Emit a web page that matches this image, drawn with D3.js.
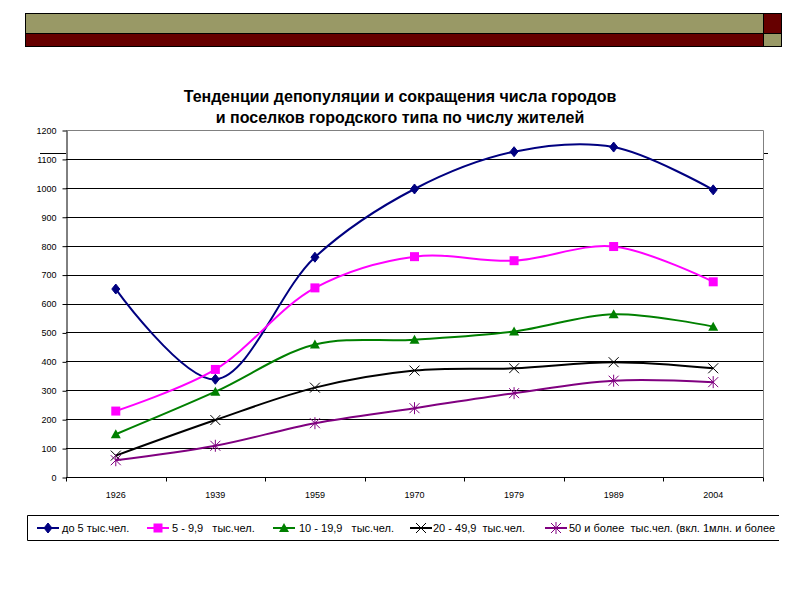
<!DOCTYPE html>
<html><head><meta charset="utf-8">
<script src="https://cdn.jsdelivr.net/npm/d3@7"></script>
<style>body{margin:0;background:#fff}svg{display:block}text{font-family:"Liberation Sans",Arial,sans-serif}</style>
</head><body>
<svg id="c" width="800" height="600"></svg>
<script>
const categories = ["1926","1939","1959","1970","1979","1989","2004"];
const yTicks = [0,100,200,300,400,500,600,700,800,900,1000,1100,1200];
const seriesNames = ["до 5 тыс.чел.","5 - 9,9   тыс.чел.","10 - 19,9   тыс.чел.","20 - 49,9  тыс.чел.","50 и более  тыс.чел. (вкл. 1млн. и более"];
const s1 = [650,338,760,996,1125,1141,993];
const s2 = [228,372,654,762,748,797,675];
const s3 = [148,295,458,475,503,563,520];
const s4 = [74,197,309,368,376,397,376];
const s5 = [58,108,186,238,290,333,328];
const titleLines = ["Тенденции депопуляции и сокращения числа городов","и поселков городского типа по числу жителей"];

const colors = ["#000080","#ff00ff","#008000","#000000","#800080"];
const markers = ["diamond","square","triangle","x","star"];
const seriesVals = [s1,s2,s3,s4,s5];

const svg = d3.select("#c");
// header bars
const hdr = svg.append("g").attr("stroke","#000").attr("stroke-width",1);
hdr.append("rect").attr("x",25.5).attr("y",13.5).attr("width",738).attr("height",20).attr("fill","#999966");
hdr.append("rect").attr("x",25.5).attr("y",33.5).attr("width",738).attr("height",13).attr("fill","#660000");
hdr.append("rect").attr("x",763.5).attr("y",13.5).attr("width",18).attr("height",20).attr("fill","#660000");
hdr.append("rect").attr("x",763.5).attr("y",33.5).attr("width",18).attr("height",13).attr("fill","#999966");

// artifact lines
svg.append("line").attr("x1",40).attr("x2",66).attr("y1",153.5).attr("y2",153.5).attr("stroke","#000");
svg.append("line").attr("x1",763).attr("x2",768).attr("y1",153.5).attr("y2",153.5).attr("stroke","#000");

// title
svg.append("g").selectAll("text").data(titleLines).join("text")
  .attr("x",400).attr("y",(d,i)=>102+i*21).attr("text-anchor","middle")
  .attr("font-size",16).attr("font-weight","bold").attr("fill","#000").text(d=>d);

const L=66,R=763,T=130,B=477;
const x = d3.scaleBand().domain(categories).range([L,R]);
const y = d3.scaleLinear().domain([0,1200]).range([B,T]);
const cx = d=>x(d)+x.bandwidth()/2;

// gridlines
svg.append("g").selectAll("line").data(yTicks.filter(v=>v>0&&v<1200)).join("line")
  .attr("x1",L).attr("x2",R).attr("y1",d=>Math.round(y(d))+0.5).attr("y2",d=>Math.round(y(d))+0.5)
  .attr("stroke","#000").attr("stroke-width",1);
// plot border top/right
svg.append("path").attr("d",`M${L},${T+0.5}H${R+0.5}V${B}`).attr("fill","none").attr("stroke","#808080");

// y axis
const ya = svg.append("g").attr("transform",`translate(${L+0.5},0.5)`)
  .call(d3.axisLeft(y).tickValues(yTicks).tickSize(4).tickSizeOuter(0).tickFormat(d3.format("d")));
ya.select(".domain").attr("stroke","#000");
ya.selectAll("text").attr("font-size",9).attr("font-family","Liberation Sans, Arial").attr("dx",-3);
// x axis
const xa = svg.append("g").attr("transform",`translate(0,${B+0.5})`);
xa.append("line").attr("x1",L).attr("x2",R+0.5).attr("stroke","#000");
const bounds = categories.map(c=>x(c)).concat([R]);
xa.selectAll("line.t").data(bounds).join("line").attr("class","t")
  .attr("x1",d=>Math.round(d)+0.5).attr("x2",d=>Math.round(d)+0.5).attr("y1",0).attr("y2",4).attr("stroke","#000");
xa.selectAll("text").data(categories).join("text")
  .attr("x",d=>cx(d)).attr("y",20).attr("text-anchor","middle").attr("font-size",9).text(d=>d);

function drawMarker(g,type,color,px,py){
  if(type==="diamond"){
    g.append("path").attr("d",`M${px},${py-5}L${px+4},${py}L${px},${py+5}L${px-4},${py}Z`).attr("fill",color).attr("stroke",color);
  } else if(type==="square"){
    g.append("rect").attr("x",px-4.5).attr("y",py-4.5).attr("width",9).attr("height",9).attr("fill",color);
  } else if(type==="triangle"){
    g.append("path").attr("d",`M${px},${py-5}L${px+5},${py+4}L${px-5},${py+4}Z`).attr("fill",color);
  } else if(type==="x"){
    g.append("path").attr("d",`M${px-5},${py-5}L${px+5},${py+5}M${px+5},${py-5}L${px-5},${py+5}`).attr("stroke",color).attr("stroke-width",1);
  } else {
    g.append("path").attr("d",`M${px-5},${py-5}L${px+5},${py+5}M${px+5},${py-5}L${px-5},${py+5}M${px},${py-6}L${px},${py+6}`).attr("stroke",color).attr("stroke-width",1);
  }
}

const line = d3.line().x((d,i)=>cx(categories[i])).y(d=>y(d)).curve(d3.curveCatmullRom.alpha(0.5));
seriesVals.forEach((vals,si)=>{
  const g = svg.append("g");
  g.append("path").attr("d",line(vals)).attr("fill","none").attr("stroke",colors[si]).attr("stroke-width",2);
  vals.forEach((v,i)=>drawMarker(g,markers[si],colors[si],cx(categories[i]),y(v)));
});

// legend
svg.append("path").attr("d","M779,515.5H27.5V540.5H779").attr("fill","none").attr("stroke","#000");
const legX = [37,147,273,410,545];
const legTX = [62,172,299,433,569];
const lg = svg.append("g").attr("clip-path","url(#lc)");
svg.append("clipPath").attr("id","lc").append("rect").attr("x",0).attr("y",500).attr("width",779).attr("height",60);
seriesNames.forEach((n,i)=>{
  lg.append("line").attr("x1",legX[i]).attr("x2",legX[i]+22).attr("y1",528).attr("y2",528).attr("stroke",colors[i]).attr("stroke-width",2);
  drawMarker(lg,markers[i],colors[i],legX[i]+11,528);
  lg.append("text").attr("x",legTX[i]).attr("y",532).attr("font-size",11).attr("xml:space","preserve").style("white-space","pre").text(n);
});
</script>
</body></html>
